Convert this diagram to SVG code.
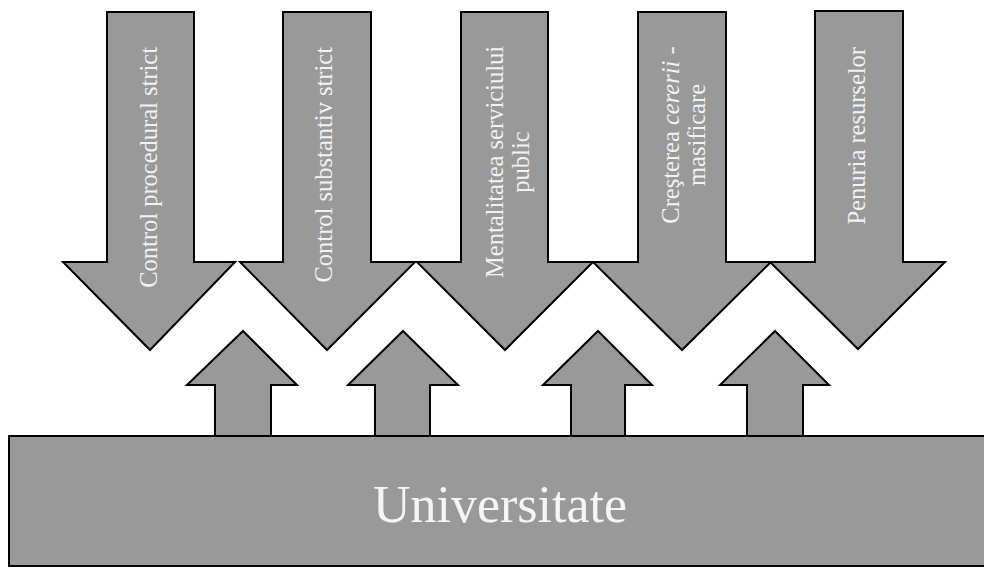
<svg xmlns="http://www.w3.org/2000/svg" width="984" height="569" viewBox="0 0 984 569">
<style>
.sh{fill:#999999;stroke:#000;stroke-width:2;stroke-linejoin:miter}
.t{font-family:"Liberation Serif","Times New Roman",serif;fill:#f2f2f2;font-size:24.5px}
.big{font-family:"Liberation Serif","Times New Roman",serif;fill:#f5f5f5;font-size:52px}
</style>
<rect width="984" height="569" fill="#fff"/>
<g id="node-universitate">
<rect class="sh" x="9" y="436" width="990" height="130"/>
<text class="big" x="500" y="522" text-anchor="middle">Universitate</text>
</g>
<g id="connectors">
<polygon class="sh" points="243,331 297,385 271,385 271,436 215,436 215,385 187,385"/>
<polygon class="sh" points="403,331 458,385 430,385 430,436 375,436 375,385 348,385"/>
<polygon class="sh" points="598,331 652,385 625,385 625,436 571,436 571,385 543,385"/>
<polygon class="sh" points="775,331 829,385 803,385 803,436 747,436 747,385 720,385"/>
</g>
<g id="node-control-procedural">
<polygon class="sh" points="107,12 194,12 194,262 235,262 150,350 63,262 107,262"/>
<text class="t" transform="translate(157,47) rotate(-90)" text-anchor="end">Control procedural strict</text>
</g>
<g id="node-control-substantiv">
<polygon class="sh" points="283,12 371,12 371,262 415,262 327,350 240,262 283,262"/>
<text class="t" transform="translate(331.5,47) rotate(-90)" text-anchor="end">Control substantiv strict</text>
</g>
<g id="node-mentalitatea">
<polygon class="sh" points="461,12 548,12 548,262 593,262 505,350 417,262 461,262"/>
<text class="t" transform="translate(503,162) rotate(-90)" text-anchor="middle"><tspan x="0" y="0">Mentalitatea serviciului</tspan><tspan x="0" y="26">public</tspan></text>
</g>
<g id="node-cresterea">
<polygon class="sh" points="638,12 726,12 726,262 771,262 682,350 593,262 638,262"/>
<text class="t" transform="translate(679,135) rotate(-90)" text-anchor="middle"><tspan x="0" y="0">Creşterea <tspan font-style="italic">cererii</tspan> -</tspan><tspan x="0" y="26">masificare</tspan></text>
</g>
<g id="node-penuria">
<polygon class="sh" points="815,11 903,11 903,262 945,262 858,349 770,262 815,262"/>
<text class="t" transform="translate(865,47) rotate(-90)" text-anchor="end">Penuria resurselor</text>
</g>
</svg>
